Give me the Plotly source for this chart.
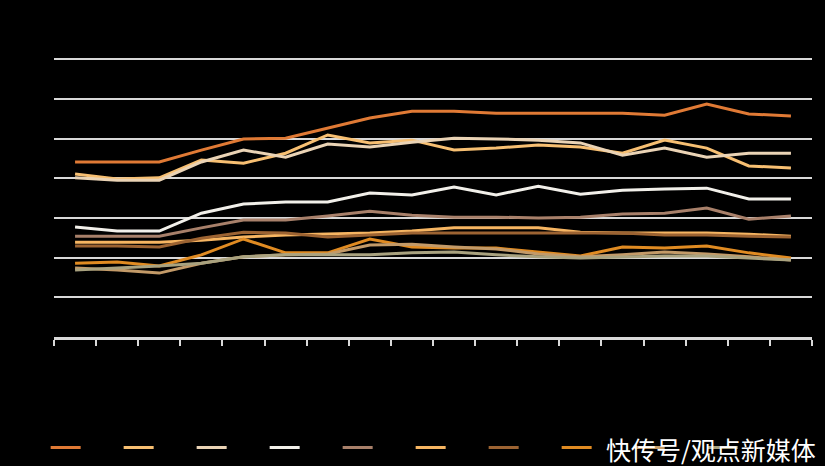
import plotly.graph_objects as go

categories = [str(2003 + i) for i in range(18)]

series_names = ["系列1", "系列2", "系列3", "系列4", "系列5",
                "系列6", "系列7", "系列8", "系列9", "系列10"]

s1 = [44.1, 44.1, 44.1, 47.1, 49.9, 50.1, 52.6, 55.2, 56.9, 56.9, 56.4, 56.4, 56.4, 56.4, 55.9, 58.7, 56.2, 55.7]
s2 = [41.1, 39.8, 40.1, 44.6, 43.8, 46.3, 50.9, 48.9, 49.6, 47.1, 47.6, 48.4, 47.9, 46.3, 49.6, 47.6, 43.1, 42.6]
s3 = [40.1, 39.5, 39.5, 44.1, 47.1, 45.3, 48.6, 47.9, 49.1, 50.1, 49.9, 49.6, 48.9, 45.8, 47.6, 45.3, 46.3, 46.3]
s4 = [27.7, 26.7, 26.7, 31.2, 33.5, 34.0, 34.0, 36.3, 35.8, 37.8, 35.8, 38.0, 36.0, 37.0, 37.3, 37.5, 34.8, 34.8]
s5 = [25.4, 25.4, 25.4, 27.5, 29.5, 29.5, 30.5, 31.7, 30.7, 30.2, 30.2, 30.0, 30.2, 31.0, 31.2, 32.5, 29.7, 30.5]
s6 = [23.9, 23.9, 23.9, 24.4, 25.2, 25.7, 25.9, 26.2, 26.7, 27.5, 27.5, 27.5, 26.4, 26.2, 26.2, 26.2, 25.9, 25.4]
s7 = [22.9, 22.9, 22.7, 24.9, 26.4, 26.2, 25.2, 25.7, 26.2, 26.2, 26.2, 26.2, 26.2, 26.2, 25.7, 25.7, 25.4, 25.2]
s8 = [18.6, 18.9, 17.9, 20.7, 24.7, 21.2, 21.2, 24.7, 22.7, 22.4, 22.4, 21.4, 20.4, 22.7, 22.4, 22.9, 21.2, 19.9]
s9 = [17.4, 16.9, 16.1, 18.6, 20.2, 20.7, 20.9, 23.2, 23.4, 22.7, 22.2, 20.9, 20.2, 20.7, 21.4, 20.9, 20.2, 19.4]
s10 = [16.9, 17.4, 17.9, 18.6, 20.2, 20.7, 20.7, 20.7, 21.2, 21.4, 20.7, 20.2, 19.9, 20.2, 20.4, 20.4, 19.9, 19.4]

all_series = [s1, s2, s3, s4, s5, s6, s7, s8, s9, s10]
colors = ["#e07a35", "#f7bf72", "#ead3b5", "#f2f0ea", "#a8806a",
          "#f6b562", "#9c6332", "#e08b22", "#c39a68", "#a9a27f"]

fig = go.Figure()
for name, vals, col in zip(series_names, all_series, colors):
    fig.add_trace(go.Scatter(x=categories, y=vals, name=name, mode="lines",
                             line=dict(color=col, width=3)))

fig.update_layout(
    width=825, height=466,
    paper_bgcolor="#000000", plot_bgcolor="#000000",
    margin=dict(l=54, r=13, t=58, b=129, autoexpand=False),
    font=dict(family="Noto Sans CJK SC", color="#000000", size=11),
    showlegend=True,
    legend=dict(orientation="h", x=-0.011, xanchor="left", y=-0.396, yanchor="middle",
                entrywidth=28, entrywidthmode="pixels",
                font=dict(color="#000000", size=11), bgcolor="rgba(0,0,0,0)",
                itemclick=False),
    xaxis=dict(type="category", range=[-0.5, 17.5], showgrid=False,
               showline=True, linecolor="#d9d9d9", linewidth=3,
               ticks="outside", tickson="boundaries", ticklen=6, tickwidth=2,
               tickcolor="#d9d9d9", tickfont=dict(color="#000000")),
    yaxis=dict(range=[0, 70.3], tickvals=[0, 10, 20, 30, 40, 50, 60, 70],
               showgrid=True, gridcolor="#d9d9d9",
               gridwidth=2, zeroline=False, showline=False,
               tickfont=dict(color="#000000")),
    annotations=[dict(text="快传号/观点新媒体", xref="paper", yref="paper",
                      x=1.008, xanchor="right", y=-0.403, yanchor="middle",
                      showarrow=False,
                      font=dict(family="Noto Sans CJK SC", size=25, color="#ffffff"))],
)

fig.write_html("out.html", config={"displayModeBar": False})

with open("out.html", "r", encoding="utf-8") as f:
    html = f.read()
html = html.replace("<body>", '<body style="margin:0;background:#000000;">', 1)
with open("out.html", "w", encoding="utf-8") as f:
    f.write(html)
